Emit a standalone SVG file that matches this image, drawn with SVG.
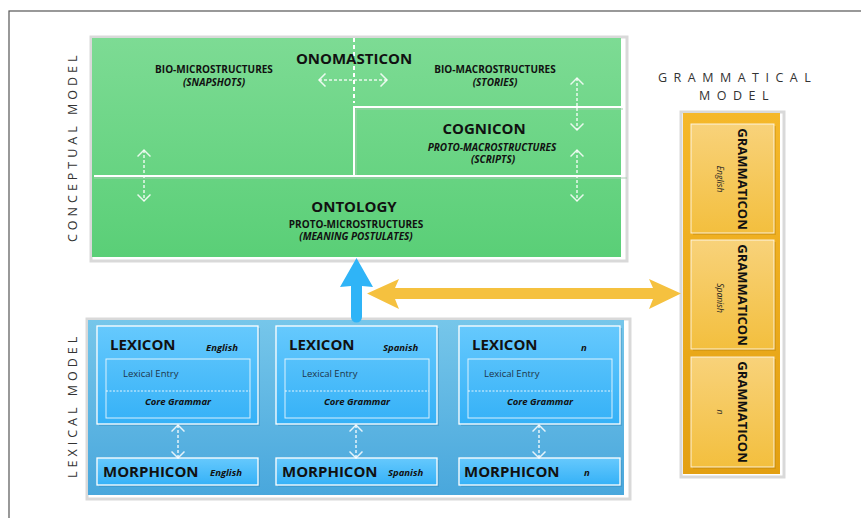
<svg xmlns="http://www.w3.org/2000/svg" width="861" height="518" viewBox="0 0 861 518">
<defs>
<linearGradient id="gGreen" x1="0" y1="0" x2="0" y2="1"><stop offset="0" stop-color="#7ddb94"/><stop offset="1" stop-color="#5acf77"/></linearGradient>
<linearGradient id="gBlue" x1="0" y1="0" x2="0" y2="1"><stop offset="0" stop-color="#76c6ea"/><stop offset="1" stop-color="#49a7dc"/></linearGradient>
<linearGradient id="gLex" x1="0" y1="0" x2="0" y2="1"><stop offset="0" stop-color="#66c9fd"/><stop offset="1" stop-color="#35b1f7"/></linearGradient>
<linearGradient id="gOr" x1="0" y1="0" x2="0" y2="1"><stop offset="0" stop-color="#f5b82a"/><stop offset="1" stop-color="#e3a012"/></linearGradient>
<linearGradient id="gOrIn" x1="0" y1="0" x2="0" y2="1"><stop offset="0" stop-color="#f8d27a"/><stop offset="1" stop-color="#f3bf3e"/></linearGradient>
<marker id="chev" viewBox="-8 -7 10 14" markerWidth="10" markerHeight="14" refX="0" refY="0" orient="auto-start-reverse" markerUnits="userSpaceOnUse">
<path d="M-6.5,-6.5 L0,0 L-6.5,6.5" fill="none" stroke="#ffffff" stroke-opacity="0.85" stroke-width="1.5"/>
</marker>
<style>
.b{font-family:"Open Sans","Liberation Sans",sans-serif;font-weight:bold;fill:#111}
.big{font-size:15px}
.gm{font-size:13px}
.sm{font-size:9.5px}
.xs{font-size:10px}
.it{font-style:italic}
.reg{font-family:"Open Sans","Liberation Sans",sans-serif;fill:#1d3447;font-size:9.5px}
.lbl{font-family:"Open Sans","Liberation Sans",sans-serif;fill:#333;font-size:12.5px;letter-spacing:6.5px}
.vl{font-family:"Open Sans","Liberation Sans",sans-serif;fill:#333;font-size:12.5px;letter-spacing:4px}
.dl{fill:none;stroke:#ffffff;stroke-opacity:0.85;stroke-width:1.5;stroke-dasharray:3 2;marker-start:url(#chev);marker-end:url(#chev)}
.wl{fill:none;stroke:#ffffff;stroke-width:2}
.sh{fill:none;stroke:#d9d9d9;stroke-width:3}
.lex{fill:url(#gLex);stroke:#ffffff;stroke-width:1.3}
.inn{fill:none;stroke:#ffffff;stroke-opacity:0.8;stroke-width:1}
.gi{fill:url(#gOrIn);stroke:#ffffff;stroke-opacity:0.8;stroke-width:1}
.ds{fill:#2f85b5;opacity:0.35}
.gs{fill:#b88008;opacity:0.35}
</style>
</defs>

<rect x="9" y="11" width="880" height="540" fill="#ffffff" stroke="#555555" stroke-width="1.2"/>

<text class="vl" transform="translate(77,242) rotate(-90)">CONCEPTUAL MODEL</text>
<text class="vl" transform="translate(77,478) rotate(-90)">LEXICAL MODEL</text>
<text class="lbl" x="658" y="82">GRAMMATICAL</text>
<text class="lbl" x="699" y="100">MODEL</text>

<g id="conceptual">
<rect x="91" y="37" width="536" height="224" class="sh"/>
<rect x="92" y="38" width="529" height="219" fill="url(#gGreen)"/>
<line x1="354" y1="38" x2="354" y2="103" stroke="#ffffff" stroke-width="2" stroke-dasharray="4 3"/>
<path d="M356,177 V109 H623" fill="none" stroke="#9fcfa9" stroke-width="1"/>
<path d="M354,175 V107 H623" class="wl"/>
<line x1="94" y1="178" x2="627" y2="178" stroke="#a9cdb2" stroke-width="1"/>
<line x1="94" y1="176" x2="623" y2="176" class="wl"/>
</g>

<g id="onomasticon">
<text class="b big" x="354" y="64" text-anchor="middle">ONOMASTICON</text>
<text class="b xs" x="214" y="73" text-anchor="middle">BIO-MICROSTRUCTURES</text>
<text class="b xs it" x="214" y="85.5" text-anchor="middle">(SNAPSHOTS)</text>
<text class="b xs" x="495" y="73" text-anchor="middle">BIO-MACROSTRUCTURES</text>
<text class="b xs it" x="495" y="85.5" text-anchor="middle">(STORIES)</text>
</g>

<g id="cognicon">
<text class="b big" x="484" y="134" text-anchor="middle">COGNICON</text>
<text class="b xs it" x="492" y="150.5" text-anchor="middle">PROTO-MACROSTRUCTURES</text>
<text class="b xs it" x="493" y="163" text-anchor="middle">(SCRIPTS)</text>
</g>

<g id="ontology">
<text class="b big" x="354" y="212" text-anchor="middle">ONTOLOGY</text>
<text class="b xs" x="356" y="227.5" text-anchor="middle">PROTO-MICROSTRUCTURES</text>
<text class="b xs it" x="356" y="240" text-anchor="middle">(MEANING POSTULATES)</text>
</g>

<g id="lexical-model">
<rect x="87" y="319" width="543" height="180" class="sh"/>
<rect x="88" y="320" width="536" height="175" fill="url(#gBlue)"/>
</g>

<g id="lexicon-english">
<rect x="99" y="328" width="161" height="98" class="ds"/>
<rect x="97" y="326" width="161" height="98" class="lex"/>
<rect x="106" y="359" width="144" height="59" class="inn"/>
<line x1="106" y1="391" x2="250" y2="391" stroke="#ffffff" stroke-opacity="0.85" stroke-width="1" stroke-dasharray="2 1.5"/>
<text class="b big" x="110" y="350">LEXICON</text>
<text class="b sm it" x="206" y="351">English</text>
<text class="reg" x="123" y="377">Lexical Entry</text>
<text class="b sm it" x="178" y="405" text-anchor="middle">Core Grammar</text>
</g>
<g id="lexicon-spanish">
<rect x="278" y="328" width="161" height="98" class="ds"/>
<rect x="276" y="326" width="161" height="98" class="lex"/>
<rect x="285" y="359" width="144" height="59" class="inn"/>
<line x1="285" y1="391" x2="429" y2="391" stroke="#ffffff" stroke-opacity="0.85" stroke-width="1" stroke-dasharray="2 1.5"/>
<text class="b big" x="289" y="350">LEXICON</text>
<text class="b sm it" x="383" y="351">Spanish</text>
<text class="reg" x="302" y="377">Lexical Entry</text>
<text class="b sm it" x="357" y="405" text-anchor="middle">Core Grammar</text>
</g>
<g id="lexicon-n">
<rect x="461" y="328" width="161" height="98" class="ds"/>
<rect x="459" y="326" width="161" height="98" class="lex"/>
<rect x="468" y="359" width="144" height="59" class="inn"/>
<line x1="468" y1="391" x2="612" y2="391" stroke="#ffffff" stroke-opacity="0.85" stroke-width="1" stroke-dasharray="2 1.5"/>
<text class="b big" x="472" y="350">LEXICON</text>
<text class="b sm it" x="581" y="351">n</text>
<text class="reg" x="484" y="377">Lexical Entry</text>
<text class="b sm it" x="540" y="405" text-anchor="middle">Core Grammar</text>
</g>

<g id="morphicon-english">
<rect x="99" y="460" width="161" height="27" class="ds"/>
<rect x="97" y="458" width="161" height="27" class="lex"/>
<text class="b big" x="103" y="477">MORPHICON</text>
<text class="b sm it" x="210" y="476">English</text>
</g>
<g id="morphicon-spanish">
<rect x="278" y="460" width="161" height="27" class="ds"/>
<rect x="276" y="458" width="161" height="27" class="lex"/>
<text class="b big" x="282" y="477">MORPHICON</text>
<text class="b sm it" x="388" y="476">Spanish</text>
</g>
<g id="morphicon-n">
<rect x="461" y="460" width="161" height="27" class="ds"/>
<rect x="459" y="458" width="161" height="27" class="lex"/>
<text class="b big" x="464" y="477">MORPHICON</text>
<text class="b sm it" x="584" y="476">n</text>
</g>

<g id="grammatical-model">
<rect x="681" y="112" width="103" height="365" class="sh"/>
<rect x="683" y="113" width="97" height="361" fill="url(#gOr)"/>
</g>
<g id="grammaticon-english">
<rect x="693" y="126" width="83" height="109" class="gs"/>
<rect x="691" y="124" width="83" height="109" class="gi"/>
<text class="b gm" transform="translate(737.5,179) rotate(90)" text-anchor="middle">GRAMMATICON</text>
<text class="reg it" style="fill:#222;font-size:8.5px" transform="translate(717,179) rotate(90)" text-anchor="middle">English</text>
</g>
<g id="grammaticon-spanish">
<rect x="693" y="242" width="83" height="109" class="gs"/>
<rect x="691" y="240" width="83" height="109" class="gi"/>
<text class="b gm" transform="translate(737.5,295) rotate(90)" text-anchor="middle">GRAMMATICON</text>
<text class="reg it" style="fill:#222;font-size:8.5px" transform="translate(717,298) rotate(90)" text-anchor="middle">Spanish</text>
</g>
<g id="grammaticon-n">
<rect x="693" y="359" width="83" height="110" class="gs"/>
<rect x="691" y="357" width="83" height="110" class="gi"/>
<text class="b gm" transform="translate(737.5,412) rotate(90)" text-anchor="middle">GRAMMATICON</text>
<text class="reg it" style="fill:#222;font-size:8.5px" transform="translate(717,412) rotate(90)" text-anchor="middle">n</text>
</g>

<g id="connectors">
<line x1="319" y1="80" x2="387" y2="80" class="dl"/>
<line x1="577" y1="78" x2="577" y2="130" class="dl"/>
<line x1="577" y1="150" x2="577" y2="201" class="dl"/>
<line x1="144" y1="150" x2="144" y2="201" class="dl"/>
<line x1="178" y1="425" x2="178" y2="458" class="dl"/>
<line x1="356" y1="425" x2="356" y2="458" class="dl"/>
<line x1="539" y1="425" x2="539" y2="458" class="dl"/>
<path d="M356.5,258 L373,287 L362,286 L362,317 A5,5 0 0 1 351,317 L351,286 L340,287 Z" fill="#2fb4f7"/>
<path d="M367,293.5 L399,279 L395,288 L653,288 L649,279 L681,293.5 L649,309 L653,299 L395,299 L399,309 Z" fill="#f5c13f"/>
</g>
</svg>
